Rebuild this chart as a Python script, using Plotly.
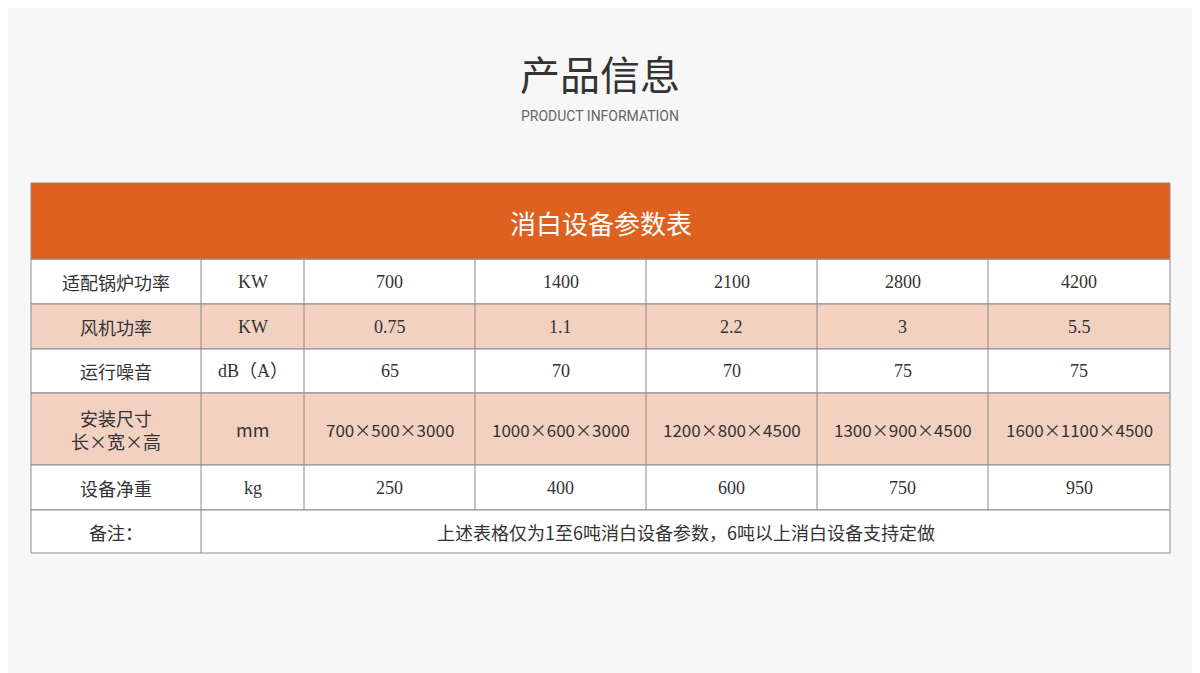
import plotly.graph_objects as go

title = "产品信息"
subtitle = "PRODUCT INFORMATION"
table_title = "消白设备参数表"

row_labels = ["适配锅炉功率", "风机功率", "运行噪音", "安装尺寸<br>长×宽×高", "设备净重"]
units = ["KW", "KW", "dB（A）", "mm", "kg"]
boiler_power = ["700", "1400", "2100", "2800", "4200"]
fan_power = ["0.75", "1.1", "2.2", "3", "5.5"]
noise = ["65", "70", "70", "75", "75"]
size = ["700×500×3000", "1000×600×3000", "1200×800×4500", "1300×900×4500", "1600×1100×4500"]
weight = ["250", "400", "600", "750", "950"]
note_label = "备注："
note_text = "上述表格仅为1至6吨消白设备参数，6吨以上消白设备支持定做"

values = [boiler_power, fan_power, noise, size, weight]

# layout in pixel units (axis range == page size, page body offset of 8px)
OFF = 8
col_edges = [31, 201, 304, 475, 646, 817, 988, 1170]
row_edges = [259, 304, 349, 393, 465, 510, 553]
head_top = 183
ORANGE = "#DE6120"
PINK = "#F2D1C1"
LINE = "#8A8A8A"
SERIF = "Liberation Serif, Noto Sans CJK SC"
SANS = "Noto Sans CJK SC"

fig = go.Figure()
shapes, ann = [], []

shapes.append(dict(type="rect", x0=col_edges[0], x1=col_edges[-1], y0=head_top, y1=row_edges[0],
                   fillcolor=ORANGE, line=dict(color=LINE, width=1)))
ann.append(dict(x=(col_edges[0] + col_edges[-1]) / 2, y=(head_top + row_edges[0]) / 2 + 1,
                text=table_title, font=dict(size=26, color="white", family=SANS), showarrow=False))

for i in range(len(row_labels) + 1):
    y0, y1 = row_edges[i], row_edges[i + 1]
    ym = (y0 + y1) / 2
    fill = PINK if i in (1, 3) else "white"
    shapes.append(dict(type="rect", x0=col_edges[0], x1=col_edges[-1], y0=y0, y1=y1,
                       fillcolor=fill, line=dict(color=LINE, width=1), layer="below"))
    if i < len(row_labels):
        cells = [row_labels[i], units[i]] + values[i]
        for j, txt in enumerate(cells):
            xm = (col_edges[j] + col_edges[j + 1]) / 2
            fam = SANS if (j == 0 or i == 3) else SERIF
            fs = 17 if (i == 3 and j > 1) else 18
            ann.append(dict(x=xm, y=ym, text=txt, showarrow=False,
                            font=dict(size=fs, color="#333333", family=fam)))
        for x in col_edges[1:-1]:
            shapes.append(dict(type="line", x0=x, x1=x, y0=y0, y1=y1, line=dict(color=LINE, width=1)))
    else:
        shapes.append(dict(type="line", x0=col_edges[1], x1=col_edges[1], y0=y0, y1=y1,
                           line=dict(color=LINE, width=1)))
        ann.append(dict(x=(col_edges[0] + col_edges[1]) / 2, y=ym, text=note_label, showarrow=False,
                        font=dict(size=18, color="#333333", family=SANS)))
        ann.append(dict(x=(col_edges[1] + col_edges[-1]) / 2, y=ym, text=note_text, showarrow=False,
                        font=dict(size=18, color="#333333", family=SANS)))

ann.append(dict(x=600, y=73, text=title, showarrow=False, font=dict(size=40, color="#333333", family=SANS)))
ann.append(dict(x=600, y=116, text=subtitle, showarrow=False, font=dict(size=14, color="#666666", family="Roboto")))

fig.update_layout(
    width=1200, height=673, margin=dict(l=0, r=0, t=0, b=0),
    paper_bgcolor="#F7F7F7", plot_bgcolor="#F7F7F7",
    shapes=shapes, annotations=ann, showlegend=False,
    xaxis=dict(range=[OFF, 1200 + OFF], visible=False, fixedrange=True),
    yaxis=dict(range=[673 + OFF, OFF], visible=False, fixedrange=True),
)
fig.write_html("out.html", config={"displayModeBar": False})
